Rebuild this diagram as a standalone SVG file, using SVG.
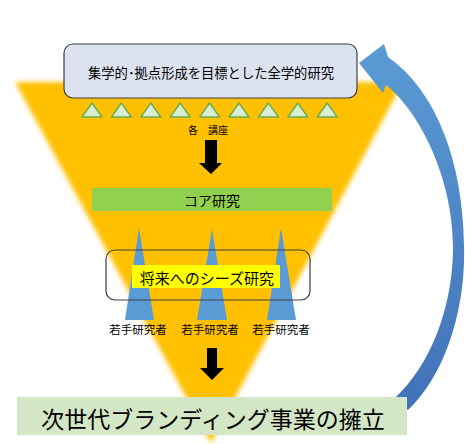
<svg xmlns="http://www.w3.org/2000/svg" width="465" height="444" viewBox="0 0 465 444">
<style>
text{font-family:"Noto Sans CJK JP","Noto Sans",sans-serif;fill:#000;text-anchor:middle;dominant-baseline:central}
.tri{fill:#d9edd3;stroke:#70ad47;stroke-width:1.5;stroke-linejoin:round}
.blue{fill:#5b9bd5}
.arrow{fill:#000}
</style>
<defs>
<filter id="blur" x="-10%" y="-10%" width="120%" height="120%"><feGaussianBlur stdDeviation="2.5"/></filter>
<linearGradient id="cg" x1="0" y1="0" x2="0" y2="1"><stop offset="0" stop-color="#5b9bd5"/><stop offset="1" stop-color="#4272b8"/></linearGradient>
</defs>
<rect width="465" height="444" fill="#fff"/>
<g id="funnel"><polygon points="15,82 403,82 211,443" fill="#ffc000" filter="url(#blur)"/></g>
<g id="connectors">
<path id="cycle-arrow" d="M408,410 C445,375 466,310 464,245 C463,165 438,92 388,57 L384,44 L359,63 L383,93 L386,85 C420,112 454,180 453,250 C452,310 430,365 395,398 Z" fill="url(#cg)"/>
<polygon class="arrow" points="205,140 217,140 217,163 222,163 211,174 199,163 205,163"/>
<polygon class="arrow" points="207,348 217,348 217,368 224,368 212,380 200,368 207,368"/>
</g>
<g id="top-node">
<rect x="64" y="44" width="293" height="54" rx="9" fill="#dde2f1" stroke="#404040" stroke-width="1.2"/>
<text x="211" y="72" font-size="13.3">集学的･拠点形成を目標とした全学的研究</text>
</g>
<g id="labs">
<polygon class="tri" points="82,117 92,103 102,117"/>
<polygon class="tri" points="111.4,117 121.4,103 131.4,117"/>
<polygon class="tri" points="140.8,117 150.8,103 160.8,117"/>
<polygon class="tri" points="170.2,117 180.2,103 190.2,117"/>
<polygon class="tri" points="199.6,117 209.6,103 219.6,117"/>
<polygon class="tri" points="229,117 239,103 249,117"/>
<polygon class="tri" points="258.4,117 268.4,103 278.4,117"/>
<polygon class="tri" points="287.8,117 297.8,103 307.8,117"/>
<polygon class="tri" points="317.2,117 327.2,103 337.2,117"/>
<text x="208" y="129" font-size="10">各　講座</text>
</g>
<g id="core">
<rect x="92" y="188" width="240" height="23" fill="#92d050"/>
<text x="212" y="200" font-size="14">コア研究</text>
</g>
<g id="young">
<polygon class="blue" points="139,228 154,320 125,320"/>
<polygon class="blue" points="212,229 227,320 197,320"/>
<polygon class="blue" points="281,228 296,320 267,320"/>
<text x="138" y="329" font-size="11.5">若手研究者</text>
<text x="210" y="329" font-size="11.5">若手研究者</text>
<text x="281" y="329" font-size="11.5">若手研究者</text>
</g>
<g id="seeds">
<rect x="106" y="250" width="204" height="50" rx="9" fill="none" stroke="#404040" stroke-width="1.2"/>
<rect x="132" y="265" width="148" height="23" fill="#ffff00"/>
<text x="207" y="277" font-size="15">将来へのシーズ研究</text>
</g>
<g id="branding">
<rect x="17" y="397" width="390" height="38" fill="#d3e6c6"/>
<text x="213" y="418" font-size="23">次世代ブランディング事業の擁立</text>
</g>
</svg>
